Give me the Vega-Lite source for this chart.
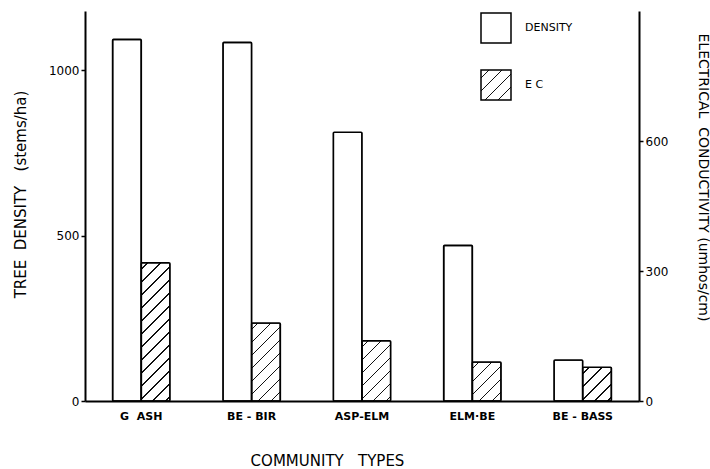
{
  "$schema": "https://vega.github.io/schema/vega-lite/v6.json",
  "width": 554,
  "height": 390,
  "autosize": "none",
  "padding": {"left": 85, "top": 11, "right": 71, "bottom": 68},
  "background": "white",
  "config": {
    "view": {"stroke": null},
    "font": "DejaVu Sans",
    "axis": {"domainColor": "black", "tickColor": "black", "labelColor": "black", "titleColor": "black", "grid": false, "titleFontWeight": "normal"}
  },
  "data": {
    "values": [
      {"type": "G\u00a0\u00a0ASH", "series": "DENSITY", "value": 1094},
      {"type": "G\u00a0\u00a0ASH", "series": "E C", "value": 319},
      {"type": "BE - BIR", "series": "DENSITY", "value": 1085},
      {"type": "BE - BIR", "series": "E C", "value": 180},
      {"type": "ASP-ELM", "series": "DENSITY", "value": 813},
      {"type": "ASP-ELM", "series": "E C", "value": 139},
      {"type": "ELM·BE", "series": "DENSITY", "value": 471},
      {"type": "ELM·BE", "series": "E C", "value": 90},
      {"type": "BE - BASS", "series": "DENSITY", "value": 124},
      {"type": "BE - BASS", "series": "E C", "value": 78}
    ]
  },
  "encoding": {
    "x": {
      "field": "type", "type": "nominal", "sort": null,
      "scale": {"paddingInner": 0.48, "paddingOuter": 0.25},
      "axis": {
        "title": "COMMUNITY\u00a0\u00a0\u00a0TYPES",
        "labelAngle": 0, "ticks": false, "domainWidth": 2, "labelPadding": 9,
        "labelFontSize": 11, "labelFontWeight": 600,
        "titleFontSize": 15, "titleX": 242, "titleY": 59, "titleBaseline": "middle", "titleAnchor": null, "titleAlign": "center"
      }
    },
    "xOffset": {"field": "series", "type": "nominal", "scale": {"domain": ["DENSITY", "E C"], "paddingInner": 0, "paddingOuter": 0}},
    "stroke": {
      "field": "series", "type": "nominal",
      "scale": {"domain": ["DENSITY", "E C"], "range": ["black", "black"]},
      "legend": {
        "title": null, "orient": "none", "legendX": 395, "legendY": 1,
        "symbolType": "square", "symbolSize": 900, "symbolStrokeWidth": 1.5,
        "labelFontSize": 11, "labelColor": "black", "labelOffset": 13, "rowPadding": 21,
        "encoding": {
          "symbols": {
            "strokeWidth": {"value": 1.5},
            "opacity": {"value": 1},
            "fill": {
              "condition": {"test": "datum.value === 'E C' || datum.label === 'E C'", "value": {"gradient": "linear", "x1": 0, "y1": 0, "x2": 1, "y2": 1, "stops": [
                  {"offset": 0, "color": "#fff"},
                  {"offset": 0.1217, "color": "#fff"}, {"offset": 0.1217, "color": "#111"}, {"offset": 0.145, "color": "#111"}, {"offset": 0.145, "color": "#fff"},
                  {"offset": 0.3383, "color": "#fff"}, {"offset": 0.3383, "color": "#111"}, {"offset": 0.3617, "color": "#111"}, {"offset": 0.3617, "color": "#fff"},
                  {"offset": 0.555, "color": "#fff"}, {"offset": 0.555, "color": "#111"}, {"offset": 0.5783, "color": "#111"}, {"offset": 0.5783, "color": "#fff"},
                  {"offset": 0.7717, "color": "#fff"}, {"offset": 0.7717, "color": "#111"}, {"offset": 0.795, "color": "#111"}, {"offset": 0.795, "color": "#fff"},
                  {"offset": 1, "color": "#fff"}
                ]}},
              "value": "white"
            }
          }
        }
      }
    }
  },
  "layer": [
    {
      "transform": [{"filter": "datum.series === 'DENSITY'"}],
      "mark": {"type": "bar", "fill": "white", "strokeWidth": 1.6, "cornerRadius": 1},
      "encoding": {
        "y": {
          "field": "value", "type": "quantitative",
          "scale": {"domain": [0, 1180], "nice": false},
          "axis": {
            "title": "TREE\u00a0\u00a0DENSITY\u00a0\u00a0\u00a0(stems/ha)",
            "values": [0, 500, 1000], "format": "d", "domainWidth": 2, "tickSize": 4, "tickWidth": 1.5, "labelPadding": 2,
            "labelFontSize": 12, "titleFontSize": 15, "titleAngle": 270, "titleX": -65, "titleY": 183,
            "titleAlign": "center", "titleBaseline": "middle", "titleAnchor": null
          }
        }
      }
    },
    {
      "transform": [{"filter": "datum.series === 'E C'"}],
      "mark": {"type": "bar", "strokeWidth": 1.6, "cornerRadius": 1},
      "encoding": {
        "y": {
          "field": "value", "type": "quantitative",
          "scale": {"domain": [0, 900], "nice": false},
          "axis": {
            "orient": "right",
            "title": "ELECTRICAL\u00a0\u00a0CONDUCTIVITY\u00a0(umhos/cm)",
            "values": [0, 300, 600], "domainWidth": 2, "tickSize": 4, "tickWidth": 1.5, "labelPadding": 2,
            "labelFontSize": 12, "titleFontSize": 14, "titleAngle": 90, "titleX": 63, "titleY": 166,
            "titleAlign": "center", "titleBaseline": "middle", "titleAnchor": null
          }
        },
        "fill": {
          "condition": [
            {"test": "datum.type === 'BE - BIR'", "value": {"gradient": "linear", "x1": 0, "y1": 0, "x2": 0.4433, "y2": 1.2049, "stops": [
              {"offset": 0, "color": "#fff"},
              {"offset": 0.0543, "color": "#fff"}, {"offset": 0.0543, "color": "#111"}, {"offset": 0.0675, "color": "#111"}, {"offset": 0.0675, "color": "#fff"},
              {"offset": 0.1762, "color": "#fff"}, {"offset": 0.1762, "color": "#111"}, {"offset": 0.1893, "color": "#111"}, {"offset": 0.1893, "color": "#fff"},
              {"offset": 0.298, "color": "#fff"}, {"offset": 0.298, "color": "#111"}, {"offset": 0.3112, "color": "#111"}, {"offset": 0.3112, "color": "#fff"},
              {"offset": 0.4199, "color": "#fff"}, {"offset": 0.4199, "color": "#111"}, {"offset": 0.433, "color": "#111"}, {"offset": 0.433, "color": "#fff"},
              {"offset": 0.5417, "color": "#fff"}, {"offset": 0.5417, "color": "#111"}, {"offset": 0.5548, "color": "#111"}, {"offset": 0.5548, "color": "#fff"},
              {"offset": 0.6635, "color": "#fff"}, {"offset": 0.6635, "color": "#111"}, {"offset": 0.6767, "color": "#111"}, {"offset": 0.6767, "color": "#fff"},
              {"offset": 0.7854, "color": "#fff"}, {"offset": 0.7854, "color": "#111"}, {"offset": 0.7985, "color": "#111"}, {"offset": 0.7985, "color": "#fff"},
              {"offset": 0.9072, "color": "#fff"}, {"offset": 0.9072, "color": "#111"}, {"offset": 0.9203, "color": "#111"}, {"offset": 0.9203, "color": "#fff"},
              {"offset": 1, "color": "#fff"}
            ]}},
            {"test": "datum.type === 'ASP-ELM'", "value": {"gradient": "linear", "x1": 0, "y1": 0, "x2": 0.5737, "y2": 1.2033, "stops": [
              {"offset": 0, "color": "#fff"},
              {"offset": 0.0652, "color": "#fff"}, {"offset": 0.0652, "color": "#111"}, {"offset": 0.081, "color": "#111"}, {"offset": 0.081, "color": "#fff"},
              {"offset": 0.2115, "color": "#fff"}, {"offset": 0.2115, "color": "#111"}, {"offset": 0.2272, "color": "#111"}, {"offset": 0.2272, "color": "#fff"},
              {"offset": 0.3577, "color": "#fff"}, {"offset": 0.3577, "color": "#111"}, {"offset": 0.3735, "color": "#111"}, {"offset": 0.3735, "color": "#fff"},
              {"offset": 0.5039, "color": "#fff"}, {"offset": 0.5039, "color": "#111"}, {"offset": 0.5197, "color": "#111"}, {"offset": 0.5197, "color": "#fff"},
              {"offset": 0.6502, "color": "#fff"}, {"offset": 0.6502, "color": "#111"}, {"offset": 0.6659, "color": "#111"}, {"offset": 0.6659, "color": "#fff"},
              {"offset": 0.7964, "color": "#fff"}, {"offset": 0.7964, "color": "#111"}, {"offset": 0.8121, "color": "#111"}, {"offset": 0.8121, "color": "#fff"},
              {"offset": 0.9426, "color": "#fff"}, {"offset": 0.9426, "color": "#111"}, {"offset": 0.9584, "color": "#111"}, {"offset": 0.9584, "color": "#fff"},
              {"offset": 1, "color": "#fff"}
            ]}},
            {"test": "datum.type === 'ELM·BE'", "value": {"gradient": "linear", "x1": 0, "y1": 0, "x2": 0.8287, "y2": 1.1261, "stops": [
              {"offset": 0, "color": "#fff"},
              {"offset": 0.0857, "color": "#fff"}, {"offset": 0.0857, "color": "#111"}, {"offset": 0.1064, "color": "#111"}, {"offset": 0.1064, "color": "#fff"},
              {"offset": 0.2777, "color": "#fff"}, {"offset": 0.2777, "color": "#111"}, {"offset": 0.2984, "color": "#111"}, {"offset": 0.2984, "color": "#fff"},
              {"offset": 0.4697, "color": "#fff"}, {"offset": 0.4697, "color": "#111"}, {"offset": 0.4904, "color": "#111"}, {"offset": 0.4904, "color": "#fff"},
              {"offset": 0.6617, "color": "#fff"}, {"offset": 0.6617, "color": "#111"}, {"offset": 0.6824, "color": "#111"}, {"offset": 0.6824, "color": "#fff"},
              {"offset": 0.8538, "color": "#fff"}, {"offset": 0.8538, "color": "#111"}, {"offset": 0.8745, "color": "#111"}, {"offset": 0.8745, "color": "#fff"},
              {"offset": 1, "color": "#fff"}
            ]}},
            {"test": "datum.type === 'BE - BASS'", "value": {"gradient": "linear", "x1": 0, "y1": 0, "x2": 0.9123, "y2": 1.0745, "stops": [
              {"offset": 0, "color": "#fff"},
              {"offset": 0.0928, "color": "#fff"}, {"offset": 0.0928, "color": "#111"}, {"offset": 0.1152, "color": "#111"}, {"offset": 0.1152, "color": "#fff"},
              {"offset": 0.3008, "color": "#fff"}, {"offset": 0.3008, "color": "#111"}, {"offset": 0.3232, "color": "#111"}, {"offset": 0.3232, "color": "#fff"},
              {"offset": 0.5088, "color": "#fff"}, {"offset": 0.5088, "color": "#111"}, {"offset": 0.5312, "color": "#111"}, {"offset": 0.5312, "color": "#fff"},
              {"offset": 0.7168, "color": "#fff"}, {"offset": 0.7168, "color": "#111"}, {"offset": 0.7392, "color": "#111"}, {"offset": 0.7392, "color": "#fff"},
              {"offset": 0.9248, "color": "#fff"}, {"offset": 0.9248, "color": "#111"}, {"offset": 0.9472, "color": "#111"}, {"offset": 0.9472, "color": "#fff"},
              {"offset": 1, "color": "#fff"}
            ]}}
          ],
          "value": {"gradient": "linear", "x1": 0, "y1": 0, "x2": 0.2404, "y2": 1.1577, "stops": [
              {"offset": 0, "color": "#fff"},
              {"offset": 0.0348, "color": "#fff"}, {"offset": 0.0348, "color": "#111"}, {"offset": 0.0431, "color": "#111"}, {"offset": 0.0431, "color": "#fff"},
              {"offset": 0.1126, "color": "#fff"}, {"offset": 0.1126, "color": "#111"}, {"offset": 0.121, "color": "#111"}, {"offset": 0.121, "color": "#fff"},
              {"offset": 0.1905, "color": "#fff"}, {"offset": 0.1905, "color": "#111"}, {"offset": 0.1989, "color": "#111"}, {"offset": 0.1989, "color": "#fff"},
              {"offset": 0.2684, "color": "#fff"}, {"offset": 0.2684, "color": "#111"}, {"offset": 0.2768, "color": "#111"}, {"offset": 0.2768, "color": "#fff"},
              {"offset": 0.3463, "color": "#fff"}, {"offset": 0.3463, "color": "#111"}, {"offset": 0.3547, "color": "#111"}, {"offset": 0.3547, "color": "#fff"},
              {"offset": 0.4242, "color": "#fff"}, {"offset": 0.4242, "color": "#111"}, {"offset": 0.4326, "color": "#111"}, {"offset": 0.4326, "color": "#fff"},
              {"offset": 0.5021, "color": "#fff"}, {"offset": 0.5021, "color": "#111"}, {"offset": 0.5105, "color": "#111"}, {"offset": 0.5105, "color": "#fff"},
              {"offset": 0.58, "color": "#fff"}, {"offset": 0.58, "color": "#111"}, {"offset": 0.5884, "color": "#111"}, {"offset": 0.5884, "color": "#fff"},
              {"offset": 0.6579, "color": "#fff"}, {"offset": 0.6579, "color": "#111"}, {"offset": 0.6663, "color": "#111"}, {"offset": 0.6663, "color": "#fff"},
              {"offset": 0.7358, "color": "#fff"}, {"offset": 0.7358, "color": "#111"}, {"offset": 0.7442, "color": "#111"}, {"offset": 0.7442, "color": "#fff"},
              {"offset": 0.8137, "color": "#fff"}, {"offset": 0.8137, "color": "#111"}, {"offset": 0.8221, "color": "#111"}, {"offset": 0.8221, "color": "#fff"},
              {"offset": 0.8916, "color": "#fff"}, {"offset": 0.8916, "color": "#111"}, {"offset": 0.8999, "color": "#111"}, {"offset": 0.8999, "color": "#fff"},
              {"offset": 0.9694, "color": "#fff"}, {"offset": 0.9694, "color": "#111"}, {"offset": 0.9778, "color": "#111"}, {"offset": 0.9778, "color": "#fff"},
              {"offset": 1, "color": "#fff"}
            ]}
        }
      }
    }
  ],
  "resolve": {"scale": {"y": "independent"}, "axis": {"y": "independent"}}
}
